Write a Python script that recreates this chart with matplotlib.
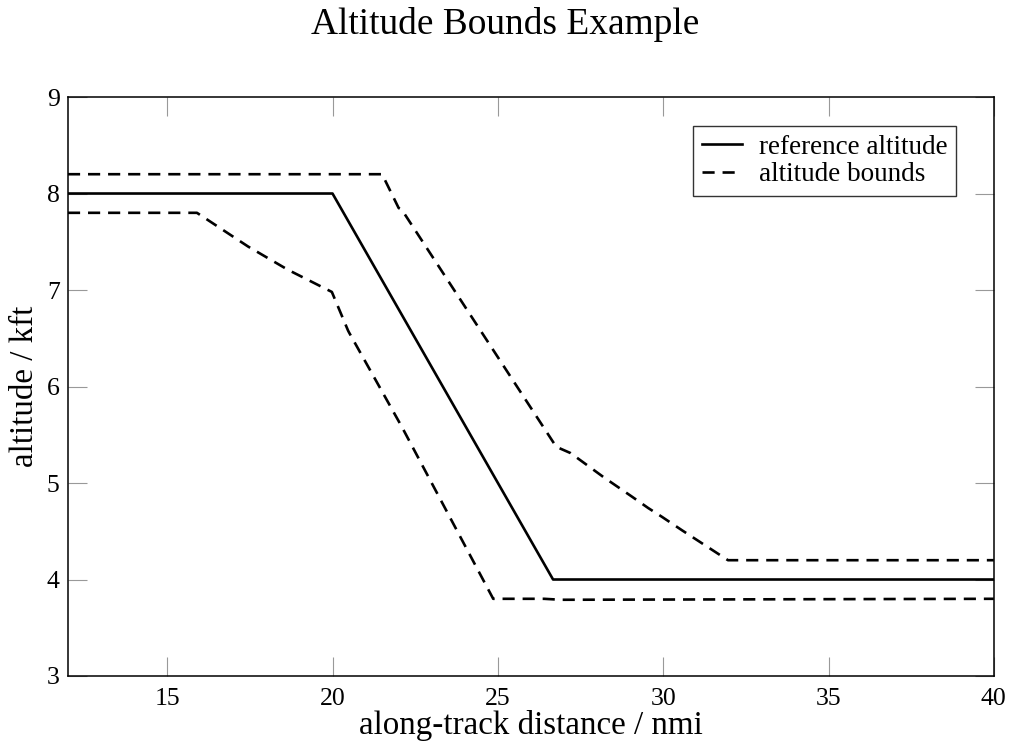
import matplotlib
matplotlib.use("Agg")
import matplotlib.pyplot as plt

plt.rcParams['font.family'] = ['Liberation Serif', 'DejaVu Serif']

# Daten
ref_x = [12, 20, 26.67, 40]
ref_y = [8, 8, 4, 4]

upper_x = [12, 21.5, 22.0, 22.1, 26.7, 26.8, 27.2, 28.2, 29.05, 29.55, 29.96, 30.57, 31.96, 40]
upper_y = [8.2, 8.2, 7.85, 7.83, 5.41, 5.37, 5.31, 5.06, 4.86, 4.74, 4.65, 4.51, 4.2, 4.2]

lower_x = [12, 15.9, 17.45, 18.65, 19.98, 20.47, 20.5, 22.1, 24.86, 26.4, 26.9, 40]
lower_y = [7.8, 7.8, 7.45, 7.21, 6.98, 6.58, 6.56, 5.58, 3.8, 3.8, 3.79, 3.8]

x_ticks = [15, 20, 25, 30, 35, 40]
y_ticks = [3, 4, 5, 6, 7, 8, 9]

fig = plt.figure(figsize=(10.1, 7.44), dpi=100)
ax = fig.add_axes([0.0673, 0.0914, 0.9167, 0.7782])

lw = 1.9
dash = (0, (4.6, 3.0))
ax.plot(ref_x, ref_y, color='black', lw=lw, label='reference altitude')
ax.plot(upper_x, upper_y, color='black', lw=lw, linestyle=dash, label='altitude bounds')
ax.plot(lower_x, lower_y, color='black', lw=lw, linestyle=dash)

ax.set_xlim(12, 40)
ax.set_ylim(3, 9)
ax.set_xticks(x_ticks)
ax.set_yticks(y_ticks)
ax.tick_params(direction='in', length=13.5, width=0.8, color='#999999',
               top=True, right=True, labelsize=18.5)
ax.tick_params(axis='x', pad=9)
ax.tick_params(axis='y', pad=6)
for s in ax.spines.values():
    s.set_linewidth(1.1)

ax.set_xlabel('along-track distance / nmi', fontsize=23.8, labelpad=0)
ax.set_ylabel('altitude / kft', fontsize=23.8, labelpad=5)
fig.suptitle('Altitude Bounds Example', fontsize=26.9, y=0.990, va='top')

leg = ax.legend(loc='upper right', bbox_to_anchor=(0.959, 0.95), fontsize=19.5,
                frameon=True, fancybox=False, edgecolor='black', handlelength=1.5,
                handletextpad=0.6, borderpad=0.32, labelspacing=0.1, borderaxespad=0)
leg.get_frame().set_linewidth(1.0)

plt.savefig('out.png', dpi=100)
